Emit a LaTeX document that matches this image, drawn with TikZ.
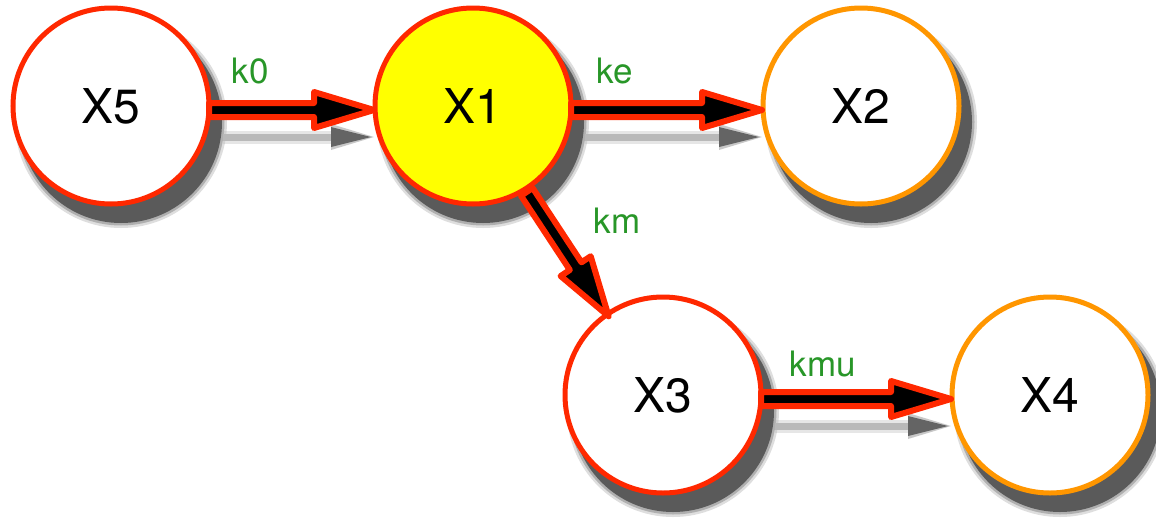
\documentclass[tikz,border=0pt]{standalone}
\usepackage{fontspec}
\setmainfont{TeX Gyre Heros}
\usetikzlibrary{calc}

\definecolor{nodered}{RGB}{255,40,0}
\definecolor{nodeorange}{RGB}{255,150,0}
\definecolor{nodeyellow}{RGB}{255,255,0}
\definecolor{labelgreen}{RGB}{40,150,40}
\definecolor{shadowgray}{RGB}{90,90,90}
\definecolor{shaftshade}{RGB}{185,185,185}
\definecolor{headshade}{RGB}{100,100,100}

\pgfdeclarelayer{paper}
\pgfdeclarelayer{shade}
\pgfsetlayers{paper,shade,main}

\tikzset{
  species/.style={circle, draw=nodered, fill=white, line width=5pt,
    minimum size=196pt, inner sep=0pt, font=\fontsize{48}{50}\selectfont},
  product/.style={species, draw=nodeorange},
  active/.style={species, fill=nodeyellow},
  rate/.style={text=labelgreen, font=\fontsize{35}{36}\selectfont,
    anchor=base, inner sep=0pt},
  flowarrow/.style={fill=black, draw=nodered, line width=6pt, line join=round},
}

% soft drop shadow under a species circle
\newcommand{\dropshade}[1]{%
  \fill[shadowgray,opacity=.2] ($(#1.center)+(10,16)$) circle[radius=106pt];
  \fill[shadowgray,opacity=.35] ($(#1.center)+(10,16)$) circle[radius=103.5pt];
  \fill[shadowgray] ($(#1.center)+(10,16)$) circle[radius=101pt];
}

% outlined reaction arrow from the border of #1 to the border of #2,
% running a few points below the line through the centres
\newcommand{\reaction}[2]{%
  \coordinate (ra) at ($(#1.center)+(0,4)$);
  \coordinate (rb) at ($(#2.center)+(0,4)$);
  \coordinate (rs) at ($(ra)!98pt!(rb)$);
  \coordinate (rt) at ($(rb)!99pt!(ra)$);
  \coordinate (rh) at ($(rt)!60pt!(rs)$);
  \filldraw[flowarrow] ($(rs)!7pt!90:(rt)$) -- ($(rh)!7pt!90:(rt)$)
    -- ($(rh)!18pt!90:(rt)$) -- (rt) -- ($(rh)!18pt!-90:(rt)$)
    -- ($(rh)!7pt!-90:(rt)$) -- ($(rs)!7pt!-90:(rt)$) -- cycle;
}

% flattened shadow cast below a horizontal reaction arrow
\newcommand{\reactionshade}[2]{%
  \coordinate (ra) at ($(#1.center)+(0,4)$);
  \coordinate (rb) at ($(#2.center)+(0,4)$);
  \coordinate (rs) at ($(ra)!98pt!(rb)$);
  \coordinate (rt) at ($(rb)!99pt!(ra)$);
  \coordinate (ss) at ($(rs)+(14,27)$);
  \coordinate (st) at ($(rt)+(-3,27)$);
  \coordinate (sh) at ($(st)!40pt!(ss)$);
  \draw[shaftshade, opacity=.35, line width=13pt] (ss) -- (sh);
  \draw[shaftshade, line width=7pt] (ss) -- (sh);
  \fill[headshade, opacity=.35] ($(sh)!13pt!90:(st)$) -- ($(st)+(3,0)$)
    -- ($(sh)!13pt!-90:(st)$) -- cycle;
  \fill[headshade] ($(sh)!10pt!90:(st)$) -- (st) -- ($(sh)!10pt!-90:(st)$) -- cycle;
}

\begin{document}
\begin{tikzpicture}[x=1pt,y=-1pt]
  \begin{pgfonlayer}{paper}
    \fill[white] (0,0) rectangle (1156,520);
  \end{pgfonlayer}
  \useasboundingbox (0,0) rectangle (1156,520);

  % species
  \node[species] (x5) at (111,106) {X5};
  \node[active]  (x1) at (473,106) {X1};
  \node[product] (x2) at (861,106) {X2};
  \node[species] (x3) at (663,395) {X3};
  \node[product] (x4) at (1050,395) {X4};

  % shadows
  \begin{pgfonlayer}{shade}
    \dropshade{x5}
    \dropshade{x1}
    \dropshade{x2}
    \dropshade{x3}
    \dropshade{x4}
    \reactionshade{x5}{x1}
    \reactionshade{x1}{x2}
    \reactionshade{x3}{x4}
  \end{pgfonlayer}

  % reactions
  \reaction{x5}{x1}
  \reaction{x1}{x2}
  \reaction{x1}{x3}
  \reaction{x3}{x4}

  % rate constants
  \node[rate] (k0)  at (250,83)  {k0};
  \node[rate] (ke)  at (615,83)  {ke};
  \node[rate] (km)  at (617,233) {km};
  \node[rate] (kmu) at (823,376) {kmu};
\end{tikzpicture}
\end{document}
